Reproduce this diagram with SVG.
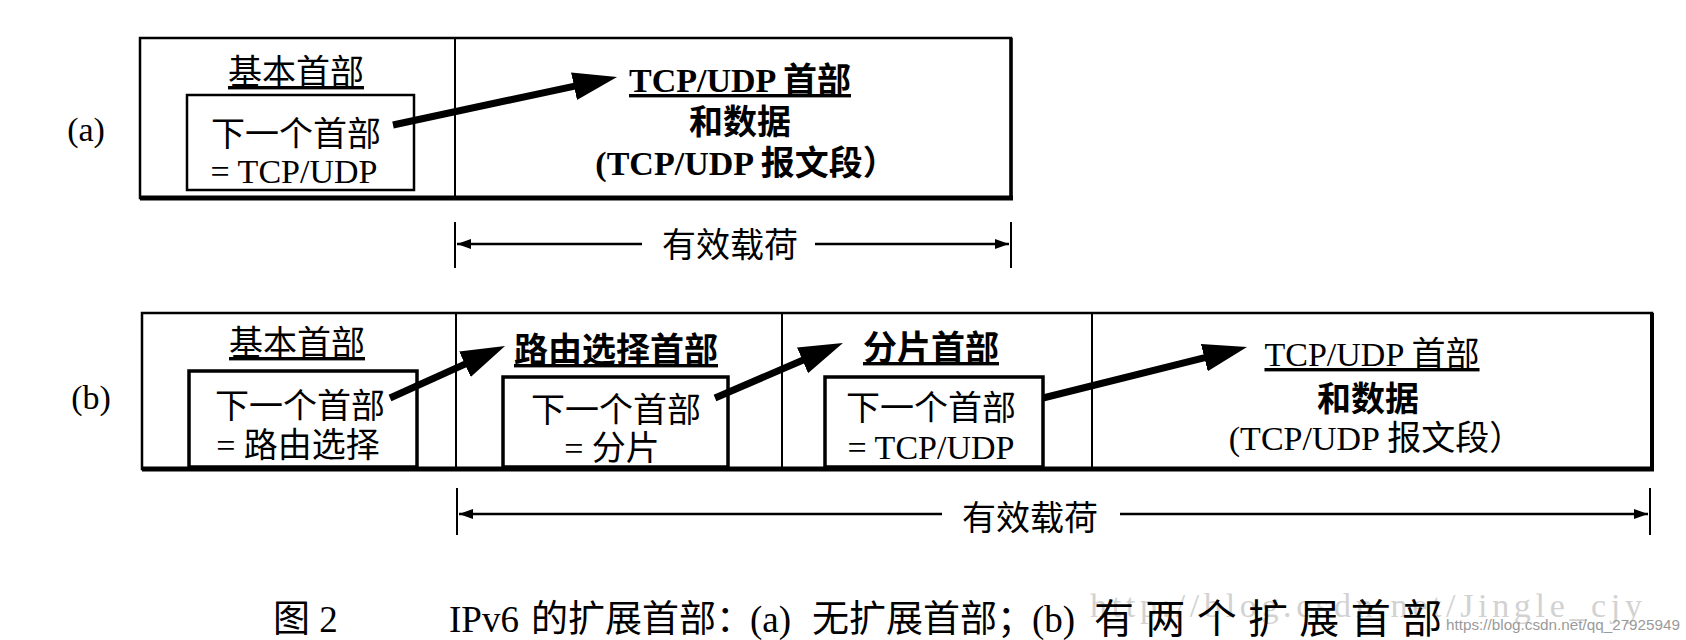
<svg xmlns="http://www.w3.org/2000/svg" width="1686" height="640" viewBox="0 0 1686 640">
<defs>
<marker id="bigHead" viewBox="0 0 44 28" refX="14" refY="14" markerWidth="44" markerHeight="28" markerUnits="userSpaceOnUse" orient="auto">
<path d="M0,0 L44,14 L0,28 Z" fill="#000"/>
</marker>
<marker id="smallHead" viewBox="0 0 14 10" refX="14" refY="5" markerWidth="14" markerHeight="10" markerUnits="userSpaceOnUse" orient="auto">
<path d="M0,0 L14,5 L0,10 Z" fill="#000"/>
</marker>
</defs>
<style>
.frame{fill:#fff;stroke:#000;stroke-width:2.5}
.inner{fill:#fff;stroke:#000;stroke-width:2.5}
.innerb{fill:#fff;stroke:#000;stroke-width:3.5}
.div{stroke:#000;stroke-width:2}
.heavy{stroke:#000;stroke-width:5}
.t{font-family:"Liberation Serif","Noto Sans CJK SC",serif;font-size:34px;fill:#000;text-anchor:middle}
.b{font-weight:bold}
.ul{text-decoration:underline}
.lbl{font-family:"Liberation Serif",serif;font-size:34px;fill:#000;text-anchor:middle}
.big{stroke:#000;stroke-width:7;fill:none;marker-end:url(#bigHead)}
.dim{stroke:#000;stroke-width:2.5;fill:none;marker-end:url(#smallHead)}
.tick{stroke:#000;stroke-width:2}
.cap{font-family:"Liberation Serif","Noto Sans CJK SC",serif;font-size:37px;fill:#000}
</style>
<rect width="1686" height="640" fill="#fff"/>

<g id="row-a">
<text class="lbl" x="86" y="141">(a)</text>
<g id="a-frame">
<rect class="frame" x="140" y="38" width="871" height="160"/>
<line class="heavy" x1="140" y1="198" x2="1013" y2="198"/>
<line class="div" x1="1011" y1="38" x2="1011" y2="198" style="stroke-width:3.5"/>
<line class="div" x1="455" y1="38" x2="455" y2="198"/>
</g>
<g id="a-base">
<text class="t ul" x="296" y="84">基本首部</text>
<rect class="inner" x="187" y="95" width="227" height="95"/>
<text class="t" x="296" y="146">下一个首部</text>
<text class="t" x="294" y="183">= TCP/UDP</text>
</g>
<g id="a-tcp">
<text class="t b ul" x="740" y="92">TCP/UDP 首部</text>
<text class="t b" x="740" y="134">和数据</text>
<text class="t b" x="746" y="175">(TCP/UDP 报文段）</text>
</g>
<g id="a-payload">
<line class="tick" x1="455" y1="222" x2="455" y2="268"/>
<line class="tick" x1="1011" y1="222" x2="1011" y2="268"/>
<text class="t" x="730" y="257">有效载荷</text>
</g>
</g>

<g id="row-b">
<text class="lbl" x="91" y="409">(b)</text>
<g id="b-frame">
<rect class="frame" x="142" y="313" width="1510" height="156"/>
<line class="heavy" x1="142" y1="469" x2="1654" y2="469"/>
<line class="div" x1="1652" y1="313" x2="1652" y2="469" style="stroke-width:4"/>
<line class="div" x1="456" y1="313" x2="456" y2="469"/>
<line class="div" x1="782" y1="313" x2="782" y2="469"/>
<line class="div" x1="1092" y1="313" x2="1092" y2="469"/>
</g>
<g id="b-base">
<text class="t ul" x="297" y="355">基本首部</text>
<rect class="innerb" x="189" y="371" width="228" height="96"/>
<text class="t" x="300" y="418">下一个首部</text>
<text class="t" x="298" y="457">= 路由选择</text>
</g>
<g id="b-route">
<text class="t b ul" x="616" y="362">路由选择首部</text>
<rect class="innerb" x="503" y="377" width="225" height="90"/>
<text class="t" x="616" y="422">下一个首部</text>
<text class="t" x="612" y="460">= 分片</text>
</g>
<g id="b-frag">
<text class="t b ul" x="931" y="360">分片首部</text>
<rect class="innerb" x="825" y="377" width="218" height="90"/>
<text class="t" x="931" y="420">下一个首部</text>
<text class="t" x="931" y="459">= TCP/UDP</text>
</g>
<g id="b-tcp">
<text class="t ul" x="1372" y="366">TCP/UDP 首部</text>
<text class="t b" x="1368" y="411">和数据</text>
<text class="t" x="1376" y="450">(TCP/UDP 报文段）</text>
</g>
<g id="b-payload">
<line class="tick" x1="457" y1="488" x2="457" y2="535"/>
<line class="tick" x1="1650" y1="488" x2="1650" y2="535"/>
<text class="t" x="1030" y="530">有效载荷</text>
</g>
</g>

<g id="connectors">
<path class="big" d="M393,125 L587.7,83.3"/>
<path class="big" d="M390,398 L477.7,358.4"/>
<path class="big" d="M715,398 L815.4,354.8"/>
<path class="big" d="M1043,398 L1217.9,354.3"/>
<path class="dim" d="M642,244 L457,244"/>
<path class="dim" d="M815,244 L1009,244"/>
<path class="dim" d="M942,514 L459,514"/>
<path class="dim" d="M1120,514 L1648,514"/>
</g>

<g id="caption">
<text x="1090" y="617" style="font-family:'Liberation Serif',serif;font-size:34px;fill:#d2d2d2" textLength="552" lengthAdjust="spacing">http://blog.csdn.net/Jingle_cjy</text>
<text x="1446" y="630" style="font-family:'Liberation Sans',sans-serif;font-size:15px;fill:#9a9a9a" textLength="234" lengthAdjust="spacingAndGlyphs">https://blog.csdn.net/qq_27925949</text>
<text class="cap" x="273" y="632">图 2</text>
<text class="cap" x="449" y="632">IPv6</text>
<text class="cap" x="531" y="632">的扩展首部：</text>
<text class="cap" x="750" y="632">(a)</text>
<text class="cap" x="812" y="632">无扩展首部；</text>
<text class="cap" x="1032" y="632">(b)</text>
<text class="cap" x="1094" y="633" style="font-size:40px" textLength="348" lengthAdjust="spacing">有两个扩展首部</text>
</g>
</svg>
